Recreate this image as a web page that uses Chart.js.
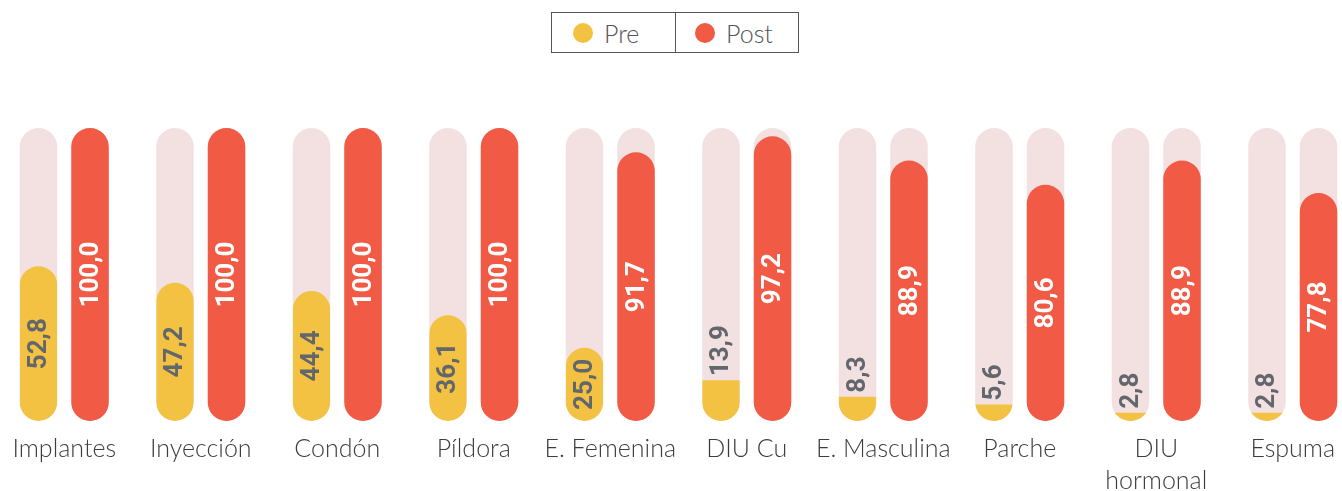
<!DOCTYPE html>
<html>
<head>
<meta charset="utf-8">
<script src="https://cdn.jsdelivr.net/npm/chart.js@4"></script>
<style>
  html, body { margin: 0; padding: 0; background: #fff; }
  #wrap { position: relative; width: 1342px; height: 491px; overflow: hidden; }
  #chart { position: absolute; left: -4px; top: 0; }
  #legend {
    position: absolute; left: 551px; top: 12px; width: 246px; height: 39px;
    border: 1px solid #555; display: flex; font-family: Lato, sans-serif; font-weight: 300;
    font-size: 25px; color: #555;
  }
  #legend .item { width: 123px; display: flex; align-items: center; padding-left: 21px; box-sizing: border-box; }
  #legend .item + .item { border-left: 1px solid #555; padding-left: 19px; }
  #legend .dot { width: 20px; height: 20px; border-radius: 50%; margin-right: 11px; }
</style>
</head>
<body>
<div id="wrap">
  <div id="legend">
    <div class="item"><span class="dot" style="background:#f3c242"></span>Pre</div>
    <div class="item"><span class="dot" style="background:#f15a45"></span>Post</div>
  </div>
  <canvas id="chart" width="1365" height="509"></canvas>
</div>
<script>
/* Pre / Post knowledge of contraceptive methods: paired pill bars on a 0-100 track */

const YELLOW = '#f3c242';
const RED = '#f15a45';
const TRACK = '#f3e1e2';

const categories = ['Implantes', 'Inyección', 'Condón', 'Píldora', 'E. Femenina', 'DIU Cu', 'E. Masculina', 'Parche', ['DIU', 'hormonal'], 'Espuma'];
const preValues = [52.8, 47.2, 44.4, 36.1, 25.0, 13.9, 8.3, 5.6, 2.8, 2.8];
const postValues = [100.0, 100.0, 100.0, 100.0, 91.7, 97.2, 88.9, 80.6, 88.9, 77.8];
const trackValues = categories.map(() => 100);

const fmt = (v) => v.toFixed(1).replace('.', ',');

function pillPath(ctx, bar) {
  const r = bar.width / 2;
  const l = bar.x - r;
  const top = bar.y;
  const bot = bar.base;
  ctx.moveTo(l, top + r);
  ctx.arc(bar.x, top + r, r, Math.PI, 0);
  ctx.lineTo(l + 2 * r, bot - r);
  ctx.arc(bar.x, bot - r, r, 0, Math.PI);
  ctx.closePath();
}

// keep the yellow bars inside their pink track (so short ones keep a round foot)
const trackClip = {
  id: 'trackClip',
  beforeDatasetDraw(chart, args) {
    if (args.index !== 0) return;
    const ctx = chart.ctx;
    ctx.save();
    ctx.beginPath();
    chart.getDatasetMeta(2).data.forEach((bar) => pillPath(ctx, bar));
    ctx.clip();
  },
  afterDatasetDraw(chart, args) {
    if (args.index === 0) chart.ctx.restore();
  },
};

// value labels written along the bars, rotated
const barLabels = {
  id: 'barLabels',
  afterDatasetsDraw(chart) {
    const ctx = chart.ctx;
    ctx.save();
    ctx.font = 'bold 26px Roboto, sans-serif';
    ctx.textBaseline = 'middle';
    [0, 1].forEach((di) => {
      const meta = chart.getDatasetMeta(di);
      const vals = chart.data.datasets[di].data;
      meta.data.forEach((bar, i) => {
        const txt = fmt(vals[i]);
        const w = ctx.measureText(txt).width;
        const h = bar.base - bar.y;
        ctx.save();
        ctx.fillStyle = di === 0 ? '#62666d' : '#fff';
        if (h < w + 12) {
          ctx.translate(bar.x, bar.y - 4);
          ctx.rotate(-Math.PI / 2);
          ctx.textAlign = 'left';
          ctx.fillText(txt, 0, 1);
        } else {
          ctx.translate(bar.x, (bar.y + bar.base) / 2);
          ctx.rotate(-Math.PI / 2);
          ctx.textAlign = 'center';
          ctx.fillText(txt, 0, 1);
        }
        ctx.restore();
      });
    });
    ctx.restore();
  },
};

const pill = { borderRadius: 20, borderSkipped: false, categoryPercentage: 0.755, barPercentage: 0.728 };

new Chart(document.getElementById('chart'), {
  type: 'bar',
  data: {
    labels: categories,
    datasets: [
      {
        label: 'Pre', data: preValues, backgroundColor: YELLOW, stack: 'pre', ...pill,
        borderRadius: (c) => (preValues[c.dataIndex] >= 20 ? 20 : 0),
      },
      { label: 'Post', data: postValues, backgroundColor: RED, stack: 'post', ...pill },
      { label: 'track-pre', data: trackValues, backgroundColor: TRACK, stack: 'pre', ...pill },
      { label: 'track-post', data: trackValues, backgroundColor: TRACK, stack: 'post', ...pill },
    ],
  },
  options: {
    responsive: false,
    animation: false,
    layout: { padding: { top: 128, left: 0, right: 0, bottom: 0 } },
    plugins: { legend: { display: false }, tooltip: { enabled: false } },
    scales: {
      x: {
        stacked: true,
        grid: { display: false, drawTicks: false },
        border: { display: false },
        ticks: { padding: 12, color: '#3d3d3d', font: { family: 'Lato, sans-serif', weight: 300, size: 25, lineHeight: 1.28 }, maxRotation: 0, autoSkip: false },
      },
      y: { stacked: false, display: false, min: 0, max: 100 },
    },
  },
  plugins: [trackClip, barLabels],
});
</script>
</body>
</html>
